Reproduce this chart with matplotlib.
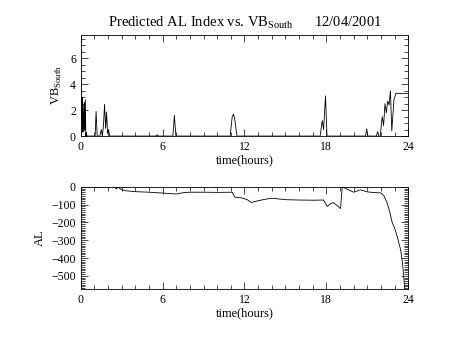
import numpy as np
import matplotlib
matplotlib.use("Agg")
import matplotlib.pyplot as plt
from matplotlib.ticker import MultipleLocator

# southward IMF component (VB_south) vs time in hours
vb_t = [0.0, 0.02, 0.05, 0.08, 0.10, 0.13, 0.16, 0.20, 0.23, 0.27, 0.30, 0.33, 0.37, 0.40, 0.45,
        1.05, 1.12, 1.20, 1.40, 1.50, 1.58, 1.66, 1.74, 1.82, 1.89, 1.96, 2.03, 2.12,
        5.50, 5.60, 5.70, 6.75, 6.86, 6.97,
        10.95, 11.10, 11.20, 11.30, 11.45,
        17.55, 17.70, 17.80, 17.94, 18.05,
        20.88, 20.96, 21.05, 21.68, 21.76, 21.85,
        21.95, 22.10, 22.20, 22.30, 22.40, 22.50, 22.60, 22.70, 22.80, 22.96, 23.10, 24.0]
vb_v = [7.8, 3.0, 2.9, 0.5, 3.0, 2.8, 0.3, 1.5, 2.4, 2.6, 0.5, 2.8, 0.0, 0.3, 0.0,
        0.0, 1.9, 0.0, 0.0, 0.5, 0.0, 0.8, 2.45, 0.6, 1.85, 0.2, 0.5, 0.0,
        0.0, 0.1, 0.0, 0.0, 1.6, 0.0,
        0.0, 1.5, 1.7, 1.2, 0.0,
        0.0, 1.2, 0.5, 3.1, 0.0,
        0.0, 0.55, 0.0, 0.0, 0.35, 0.0,
        0.0, 1.5, 0.8, 2.5, 1.8, 2.7, 2.4, 3.5, 0.4, 2.8, 3.3, 3.3]

# predicted AL index (nT)
al_t = [0.0, 2.5, 2.6, 2.7, 2.8, 3.0, 3.3, 4.0, 5.0, 6.0, 7.0, 7.5, 8.0, 9.0, 10.0, 11.1,
        11.3, 11.8, 12.2, 12.5, 12.8, 13.0, 13.5, 14.0, 15.0, 16.0, 17.0, 17.8, 18.06,
        18.3, 18.5, 18.8, 19.04, 19.17, 19.5, 20.0, 20.5, 21.0, 21.5, 22.0, 22.23,
        22.45, 22.6, 22.84, 23.0, 23.2, 23.46, 23.6, 23.7, 23.75]
al_v = [0, 0, -12, -2, -6, -16, -22, -27, -30, -35, -40, -33, -30, -30, -31, -30,
        -58, -62, -72, -88, -82, -78, -70, -64, -72, -74, -75, -74, -110,
        -95, -88, -105, -122, 0, -12, -30, -17, -28, -32, -34, -50,
        -90, -126, -203, -230, -280, -357, -440, -525, -575]

plt.rcParams['font.family'] = ['Liberation Serif', 'DejaVu Serif']
plt.rcParams['mathtext.fontset'] = 'custom'
plt.rcParams['mathtext.rm'] = 'Liberation Serif'

fig = plt.figure(figsize=(4.54, 3.41), dpi=100)
ax1 = fig.add_axes([0.178, 0.601, 0.721, 0.296])
ax2 = fig.add_axes([0.178, 0.152, 0.721, 0.300])

ax1.plot(vb_t, vb_v, color='black', lw=0.6)
ax1.set_xlim(0, 24)
ax1.set_ylim(0, 7.8)
ax1.yaxis.set_major_locator(MultipleLocator(2))
ax1.yaxis.set_minor_locator(MultipleLocator(0.5))
ax1.set_ylabel('VB$_{\\rm South}$', fontsize=9)
ax1.set_title('Predicted AL Index vs. VB$_{\\rm South}$      12/04/2001', fontsize=10.5, pad=6)

ax2.plot(al_t, al_v, color='black', lw=0.6)
ax2.set_xlim(0, 24)
ax2.set_ylim(-575, 0)
ax2.yaxis.set_major_locator(MultipleLocator(100))
ax2.yaxis.set_minor_locator(MultipleLocator(10))
ax2.set_ylabel('AL', fontsize=9)

for ax in (ax1, ax2):
    ax.xaxis.set_major_locator(MultipleLocator(6))
    ax.xaxis.set_minor_locator(MultipleLocator(1))
    ax.set_xlabel('time(hours)', fontsize=9, labelpad=1)
    ax.tick_params(which='both', direction='in', top=True, right=True, labelsize=8.5, width=0.5)
    ax.tick_params(which='major', length=5)
    ax.tick_params(which='minor', length=3)
    for s in ax.spines.values():
        s.set_linewidth(0.6)

fig.savefig('out.png', dpi=100)
